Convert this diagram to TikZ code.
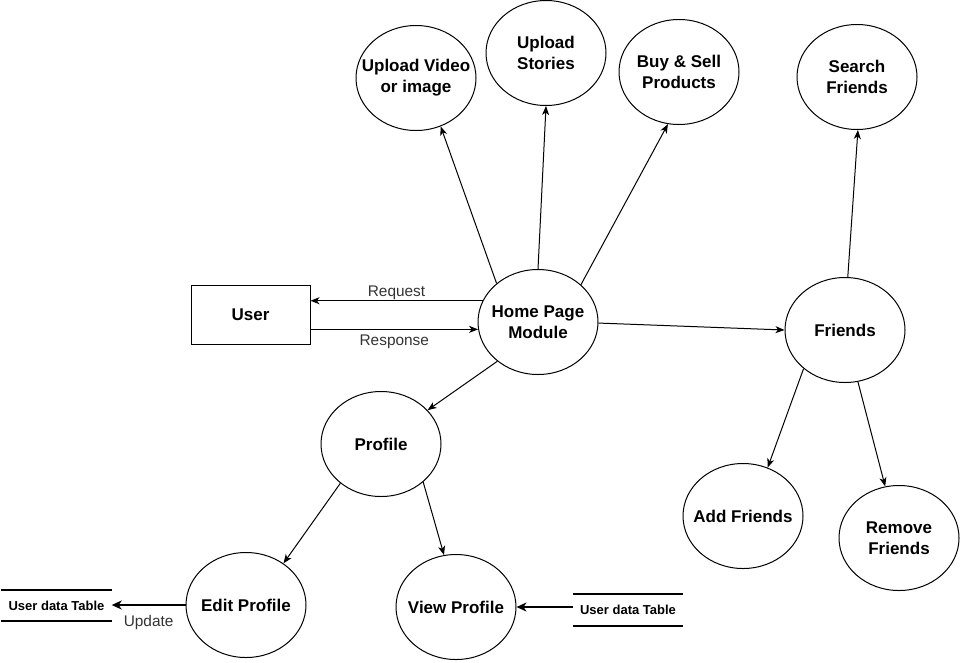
\documentclass[tikz,border=0pt]{standalone}
\usepackage{fontspec}
\setmainfont{Liberation Sans}
\usetikzlibrary{arrows.meta,shapes.geometric}
\begin{document}
\begin{tikzpicture}[x=1pt,y=-1pt,
  proc/.style={ellipse,draw,line width=1pt,minimum width=120pt,minimum height=105pt,
    inner xsep=-14pt,inner ysep=0pt,align=center,font=\fontsize{17}{21}\selectfont\bfseries},
  ent/.style={rectangle,draw,line width=1pt,minimum width=119pt,minimum height=59pt,
    inner sep=0pt,font=\fontsize{17}{21}\selectfont\bfseries},
  store/.style={inner sep=0pt,minimum width=110pt,minimum height=31pt,
    font=\fontsize{13}{15}\selectfont\bfseries},
  flow/.style={line width=1pt,-{Stealth[length=9pt,width=7pt,inset=2.5pt]}},
  heavy/.style={line width=2pt,-{Stealth[length=10pt,width=9pt,inset=3pt]}},
  lbl/.style={font=\fontsize{15.4}{17}\selectfont,text=black!80,inner sep=1pt}]
\useasboundingbox (0,0) rectangle (960,662);

% processes
\node[proc] (uv)   at (416,78)  {Upload Video\\or image};
\node[proc] (us)   at (546,53)  {Upload\\Stories};
\node[proc] (bs)   at (679,72)  {Buy \& Sell\\Products};
\node[proc] (sf)   at (857,77)  {Search\\Friends};
\node[proc] (home) at (538,322) {Home Page\\Module};
\node[proc] (fr)   at (845,330) {Friends};
\node[proc] (prof) at (381,444) {Profile};
\node[proc] (add)  at (743,516) {Add Friends};
\node[proc] (rem)  at (899,538) {Remove\\Friends};
\node[proc] (edit) at (246,605) {Edit Profile};
\node[proc] (view) at (456,607) {View Profile};

% external entity
\node[ent] (user) at (250.5,314.5) {User};

% data stores
\node[store] (ls) at (56.5,605.5) {User data Table};
\node[store] (rs) at (628,610) {User data Table};
\foreach \s in {ls,rs}{
  \draw[line width=2pt] (\s.north west) -- (\s.north east);
  \draw[line width=2pt] (\s.south west) -- (\s.south east);
}

% flows from the home page
\draw[flow] (home.137) -- (uv.297);
\draw[flow] (home.90)  -- (us.270);
\draw[flow] (home.41)  -- (bs.258);
\draw[flow] (home.359) -- (fr.180);
\draw[flow] (home.224) -- (prof.36);

% friends
\draw[flow] (fr.87)  -- (sf.271);
\draw[flow] (fr.223) -- (add.63);
\draw[flow] (fr.284) -- (rem.105);

% profile
\draw[flow] (prof.224) -- (edit.48);
\draw[flow] (prof.318) -- (view.103);

% user exchange
\draw[flow] (home.159) -- (home.159 -| user.east)
  node[lbl,pos=0.5,above] {Request};
\draw[flow] (home.187 -| user.east) -- (home.187)
  node[lbl,pos=0.5,below=4pt] {Response};

% data store access
\draw[heavy] (edit.west) -- (edit.west -| ls.east)
  node[lbl,pos=0.5,below=8pt] {Update};
\draw[heavy] (view.east -| rs.west) -- (view.east);
\end{tikzpicture}
\end{document}
